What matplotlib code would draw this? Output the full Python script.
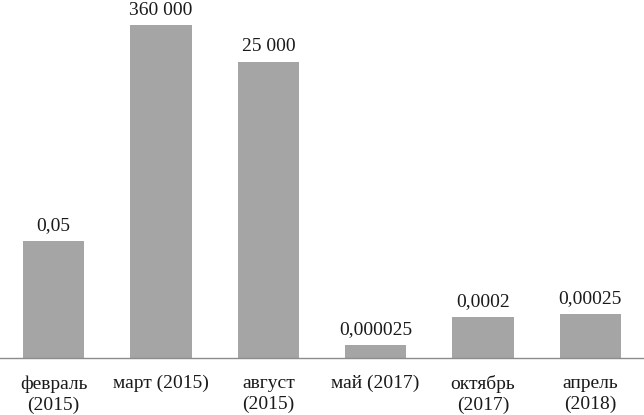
import matplotlib
matplotlib.use("Agg")
import matplotlib.pyplot as plt

categories = ["февраль\n(2015)", "март (2015)", "август\n(2015)", "май (2017)", "октябрь\n(2017)", "апрель\n(2018)"]
values = [0.05, 360000, 25000, 0.000025, 0.0002, 0.00025]
value_labels = ["0,05", "360 000", "25 000", "0,000025", "0,0002", "0,00025"]

plt.rcParams['font.family'] = ['Liberation Serif', 'DejaVu Serif']
fig = plt.figure(figsize=(6.44, 4.15), dpi=100)
ax = fig.add_axes([0, 0.138, 1, 0.862])
x = list(range(len(categories)))
bars = ax.bar(x, values, width=0.57, color='#a5a5a5', zorder=2)
ax.set_yscale('log')
ax.set_ylim(1e-5, 10 ** 6.366)
ax.set_xlim(-0.5, len(categories) - 0.5)
for xi, v, lab in zip(x, values, value_labels):
    ax.annotate(lab, (xi, v), xytext=(0, 5), textcoords='offset points',
                ha='center', va='bottom', fontsize=14, color='#1a1a1a')
ax.set_xticks(x)
ax.set_xticklabels(categories, fontsize=14, color='#1a1a1a', linespacing=1.3)
ax.tick_params(axis='x', length=0, pad=12.5)
ax.yaxis.set_visible(False)
for s in ['top', 'left', 'right']:
    ax.spines[s].set_visible(False)
ax.spines['bottom'].set_color('#8c8c8c')
ax.spines['bottom'].set_linewidth(1.0)
fig.savefig("out.png", dpi=100)
